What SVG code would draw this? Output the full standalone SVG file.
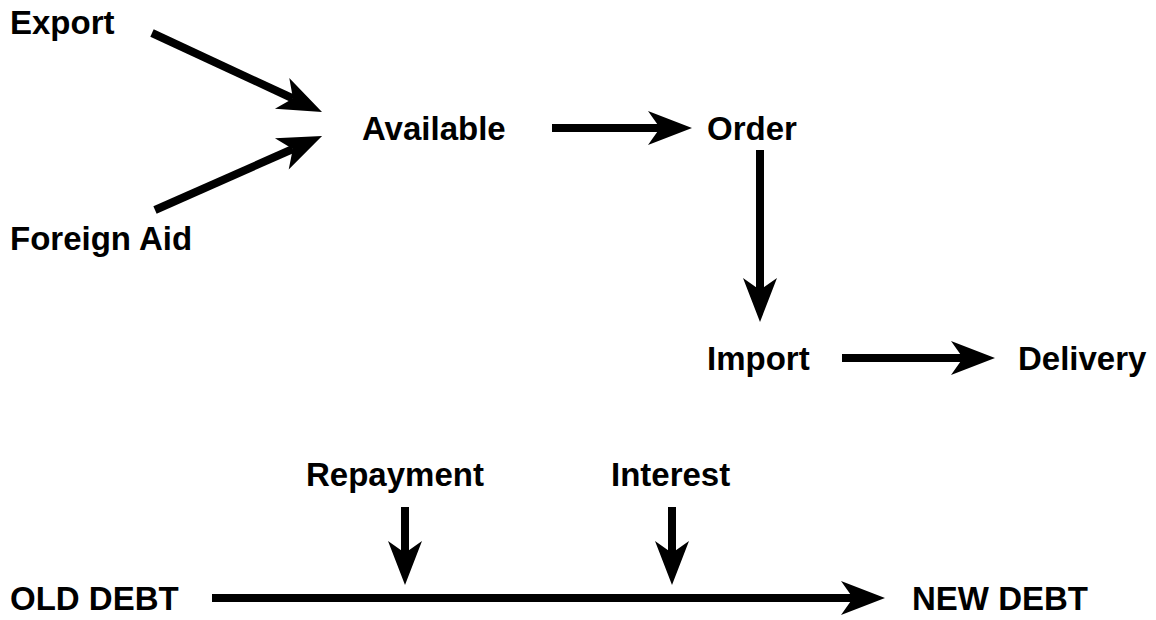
<svg xmlns="http://www.w3.org/2000/svg" width="1156" height="620" viewBox="0 0 1156 620">
<defs>
<style>
text{font-family:"Liberation Sans",Arial,sans-serif;font-weight:bold;font-size:33px;fill:#000}
.c line{stroke:#000;stroke-width:8;marker-end:url(#ah)}
</style>
<marker id="ah" markerUnits="userSpaceOnUse" orient="auto" refX="12" refY="0" markerWidth="50" markerHeight="40" viewBox="0 -20 50 40" overflow="visible">
<path d="M0,-17 L44,0 L0,17 L12,0 Z" fill="#000"/>
</marker>
</defs>
<rect width="1156" height="620" fill="#fff"/>
<g id="export"><text x="10" y="34">Export</text></g>
<g id="foreign-aid"><text x="10" y="250">Foreign Aid</text></g>
<g id="available"><text x="362" y="140">Available</text></g>
<g id="order"><text x="707" y="140">Order</text></g>
<g id="import"><text x="707" y="370">Import</text></g>
<g id="delivery"><text x="1018" y="370">Delivery</text></g>
<g id="repayment"><text x="306" y="486">Repayment</text></g>
<g id="interest"><text x="611" y="486">Interest</text></g>
<g id="old-debt"><text x="10" y="610">OLD DEBT</text></g>
<g id="new-debt"><text x="912" y="610">NEW DEBT</text></g>
<g id="connectors" class="c">
<line x1="152" y1="33" x2="293" y2="98.5"/>
<line x1="155" y1="210" x2="292.8" y2="149"/>
<line x1="552" y1="128" x2="660" y2="128"/>
<line x1="760" y1="150" x2="760" y2="290"/>
<line x1="842" y1="358" x2="963" y2="358"/>
<line x1="405" y1="507" x2="405" y2="553"/>
<line x1="672" y1="507" x2="672" y2="553"/>
<line x1="212" y1="598" x2="853" y2="598"/>
</g>
</svg>
